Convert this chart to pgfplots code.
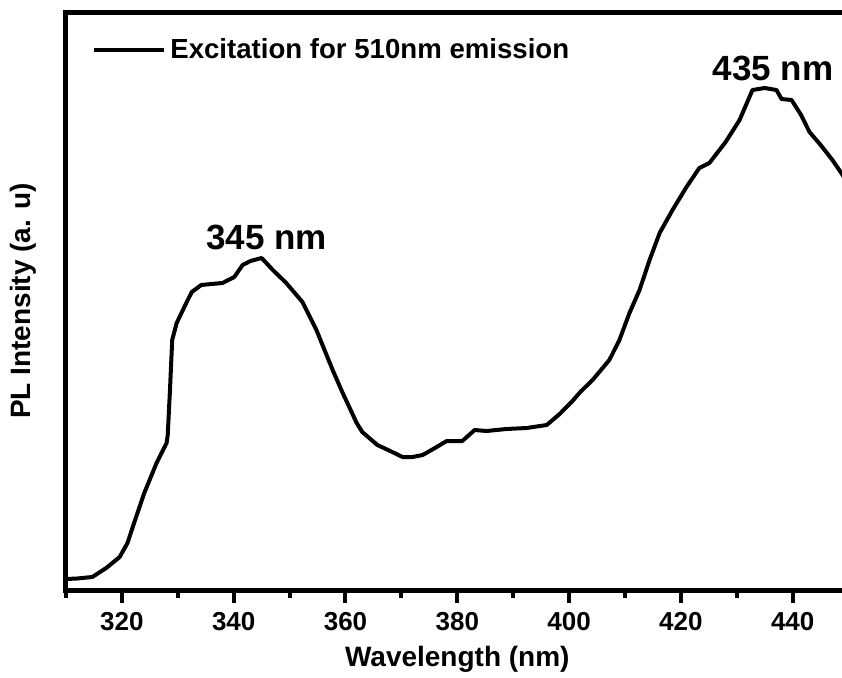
\documentclass[border=0pt]{standalone}
\usepackage{fontspec}
\setmainfont{Liberation Sans}
\usepackage{pgfplots}
\pgfplotsset{compat=1.18}
\begin{document}
\begin{tikzpicture}
\begin{axis}[
  at={(0,0)}, anchor=south west,
  scale only axis,
  width=391.3pt, height=289pt,
  xmin=310, xmax=450, ymin=0, ymax=578,
  xtick={320,340,...,440},
  minor xtick={310,330,...,450},
  ytick=\empty,
  xtick pos=bottom,
  tick align=outside,
  axis line style={line width=2.5pt},
  major tick length=6.5pt,
  minor tick length=4pt,
  every tick/.style={black, line width=2pt},
  major tick style={line width=2pt},
  minor tick style={line width=2pt},
  /pgf/number format/assume math mode=true,
  /pgf/number format/1000 sep={},
  ticklabel style={font=\fontsize{13}{15}\selectfont\bfseries},
  xticklabel style={yshift=-1pt},
  xlabel={Wavelength (nm)},
  ylabel={PL Intensity (a. u)},
  xlabel style={font=\fontsize{14}{16}\selectfont\bfseries, yshift=-1pt},
  ylabel style={font=\fontsize{14}{16}\selectfont\bfseries, yshift=5pt},
  legend style={draw=none, fill=none, at={(0,1)}, anchor=west, xshift=13pt, yshift=-19pt,
    font=\fontsize{13.8}{15}\selectfont\bfseries, inner sep=0pt},
  legend image code/.code={\draw[#1] (0pt,0pt) -- (35pt,0pt);},
]
\addplot[black, line width=2pt, line join=round] coordinates {
(310,11) (312,11.5) (314.7,13) (317.2,22) (319.6,33) (321,47) (322,64)
(324,97) (326.2,127) (328,147) (328.2,155) (328.6,200) (329,250)
(329.8,267) (331.6,288) (332.5,298) (334.2,305) (336,306) (338,307)
(340.1,313) (341.6,325) (343,329) (345,332) (347,320) (349.4,307)
(352.3,288) (354.8,260) (357.7,220) (359.5,197) (362,167) (363,158)
(365.7,145) (368,139) (370.2,133) (372,133) (373.8,135) (376,142)
(378.1,149) (380.9,149) (383.1,160) (385.2,159) (388.8,161) (392.4,162)
(396,165) (398.3,176) (400.6,189) (402,198) (404.2,210) (407.2,230)
(409,250) (410.8,277) (412.6,300) (414.4,330) (416.2,357) (418.5,380)
(421,403) (423.3,422) (425.1,427) (428,448) (430.5,470) (432.8,500)
(435,502) (437.1,500) (438,491) (439.8,490) (441.5,475) (443,458)
(445,445) (447.1,430) (448.7,417) (450,405)
};
\addlegendentry{Excitation for 510nm emission}
\node[font=\fontsize{17.5}{20}\selectfont\bfseries] at (axis cs:345.9,353) {345 nm};
\node[font=\fontsize{17.5}{20}\selectfont\bfseries] at (axis cs:436.5,522) {435 nm};
\end{axis}
\pgfresetboundingbox
\path[use as bounding box] (-33pt,-43.5pt) rectangle (388pt,295pt);
\end{tikzpicture}
\end{document}
